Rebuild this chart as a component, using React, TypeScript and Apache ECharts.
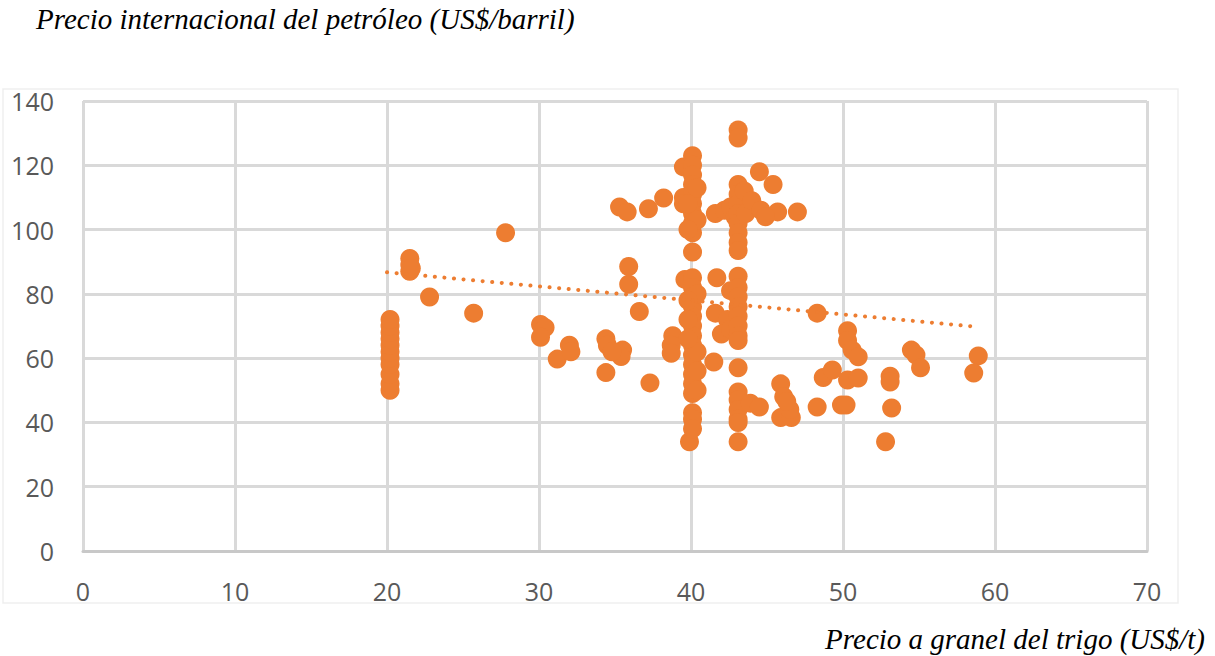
import React, { useEffect, useRef } from "react";
import * as echarts from "echarts";

const xTicks = [0, 10, 20, 30, 40, 50, 60, 70];
const yTicks = [0, 20, 40, 60, 80, 100, 120, 140];

// Wheat bulk price (US$/t) and oil price (US$/barrel) pairs
const wheatPrice: number[] = [
  20.2, 20.2, 20.2, 20.2, 20.2, 20.2, 20.2, 20.2, 20.2, 20.2, 20.2,
  21.5, 21.5, 21.5, 21.6,
  22.8, 25.7, 27.8,
  30.1, 30.4, 30.1, 31.2, 32.0, 32.1,
  34.4, 34.4, 34.5, 35.5, 35.4, 34.8,
  35.3, 35.8, 35.9, 35.9, 36.6, 37.3, 37.2, 38.2,
  38.8, 38.7, 38.7,
  39.5, 39.5, 39.5, 39.6, 39.9,
  40.1, 40.1, 40.1, 40.1, 40.1, 40.1, 40.1, 40.1, 40.1, 40.1, 40.1, 40.1, 40.1,
  40.1, 40.1, 40.1, 40.1, 40.1, 40.1, 40.1, 40.1, 40.1, 40.1, 40.1, 40.1, 40.1,
  40.4, 40.4, 40.4, 40.4, 40.4, 40.4,
  39.8, 39.8, 39.8, 39.8, 39.8,
  41.5, 41.6, 42.2, 42.6, 41.7, 41.6, 42.4, 42.0, 42.6, 42.9, 42.6,
  43.1, 43.1, 43.1, 43.1, 43.1, 43.1, 43.1, 43.1, 43.1, 43.1, 43.1, 43.1, 43.1,
  43.1, 43.1, 43.1, 43.1, 43.1, 43.1, 43.1, 43.1, 43.1, 43.1, 43.1, 43.1,
  43.6, 43.5,
  44.5, 45.4, 44.0, 44.6, 45.7, 47.0, 44.9,
  43.9, 44.5, 45.9, 46.1, 45.9, 46.6, 46.5, 46.3,
  48.3, 48.3, 48.7, 49.3, 49.9, 50.2,
  50.3, 50.3, 50.6, 51.0, 50.3, 51.0,
  52.8, 53.1, 53.1, 53.2,
  54.5, 54.8, 55.1, 58.9, 58.6,
];
const oilPrice: number[] = [
  50, 52, 55, 58, 60, 62, 64, 66, 68, 70, 72,
  87, 89, 91, 88,
  79, 74, 99,
  70.5, 69.5, 66.5, 59.7, 64, 62,
  55.5, 66, 64, 62.5, 60.5, 62,
  107, 105.5, 88.5, 83, 74.5, 52.3, 106.5, 109.8,
  67, 64, 61.5,
  119.5, 110, 108, 84.5, 34,
  123, 120, 117, 114, 111, 108, 105, 102, 99, 93, 85, 82, 79,
  76, 73, 70, 67, 64, 61, 58, 55, 52, 49, 43, 41, 38,
  113, 103, 80, 62, 56, 50,
  78, 72, 66, 108, 100,
  58.8, 105, 106, 107, 85, 74, 72, 67.5, 69, 104, 81,
  131, 128.5, 114, 111, 108, 105, 102, 99, 96, 93.5, 85.5, 82, 79,
  76, 73, 70, 67, 65.5, 57, 49.5, 47, 44, 41, 40, 34,
  105, 112,
  118, 114, 109, 106, 105.5, 105.5, 104,
  46, 44.8, 52, 48, 41.5, 41.5, 44, 46.5,
  74, 44.8, 54, 56.3, 45.4, 45.4,
  68.5, 65.5, 62.5, 60.4, 53.2, 53.8,
  34, 54.4, 52.6, 44.5,
  62.5, 61, 57, 60.7, 55.4,
];

// Linear trend line end points
const trendX = [20.0, 58.7];
const trendY = [86.7, 69.8];

export default function App() {
  const ref = useRef<HTMLDivElement>(null);
  useEffect(() => {
    if (!ref.current) return;
    const chart = echarts.init(ref.current, null, { renderer: "svg" });
    const points = wheatPrice.map((x, i) => [x, oilPrice[i]]);
    const trend = trendX.map((x, i) => [x, trendY[i]]);
    const gridColor = "#d9d9d9";
    const labelColor = "#595959";
    const titleFont = "italic 29px 'Liberation Serif', 'Times New Roman', serif";
    chart.setOption({
      animation: false,
      backgroundColor: "#ffffff",
      grid: {
        left: 83,
        right: 68,
        top: 101,
        bottom: 105,
        outerBoundsMode: "none",
      },
      xAxis: {
        type: "value",
        min: xTicks[0],
        max: xTicks[xTicks.length - 1],
        interval: 10,
        axisLine: { show: true, lineStyle: { color: "#c8c8c8", width: 3 } },
        axisTick: { show: false },
        axisLabel: {
          color: labelColor,
          fontSize: 25,
          fontFamily: "Open Sans",
          margin: 27,
        },
        splitLine: { show: true, lineStyle: { color: gridColor, width: 3 } },
      },
      yAxis: {
        type: "value",
        min: yTicks[0],
        max: yTicks[yTicks.length - 1],
        interval: 20,
        axisLine: { show: false },
        axisTick: { show: false },
        axisLabel: {
          color: labelColor,
          fontSize: 25,
          fontFamily: "Open Sans",
          margin: 29,
        },
        splitLine: { show: true, lineStyle: { color: gridColor, width: 3 } },
      },
      series: [
        {
          type: "scatter",
          data: points,
          symbol: "circle",
          symbolSize: 19,
          itemStyle: { color: "#ED7D31", opacity: 1 },
          z: 3,
        },
        {
          type: "line",
          data: trend,
          symbol: "none",
          lineStyle: {
            color: "#ED7D31",
            width: 4,
            type: [0.1, 9.5],
            cap: "round",
          },
          z: 4,
        },
      ],
      graphic: [
        {
          type: "rect",
          shape: { x: 3, y: 89, width: 1175, height: 514 },
          style: { fill: "none", stroke: "#efefef", lineWidth: 1.5 },
          z: -1,
          silent: true,
        },
        {
          type: "text",
          left: 36,
          top: 4,
          style: {
            text: "Precio internacional del petróleo (US$/barril)",
            font: titleFont,
            fill: "#000000",
          },
        },
        {
          type: "text",
          right: 10,
          top: 624,
          style: {
            text: "Precio a granel del trigo (US$/t)",
            font: titleFont,
            fill: "#000000",
          },
        },
      ],
    });
    return () => chart.dispose();
  }, []);
  return (
    <div
      ref={ref}
      style={{ position: "absolute", left: 0, top: 0, width: 1215, height: 656 }}
    />
  );
}
